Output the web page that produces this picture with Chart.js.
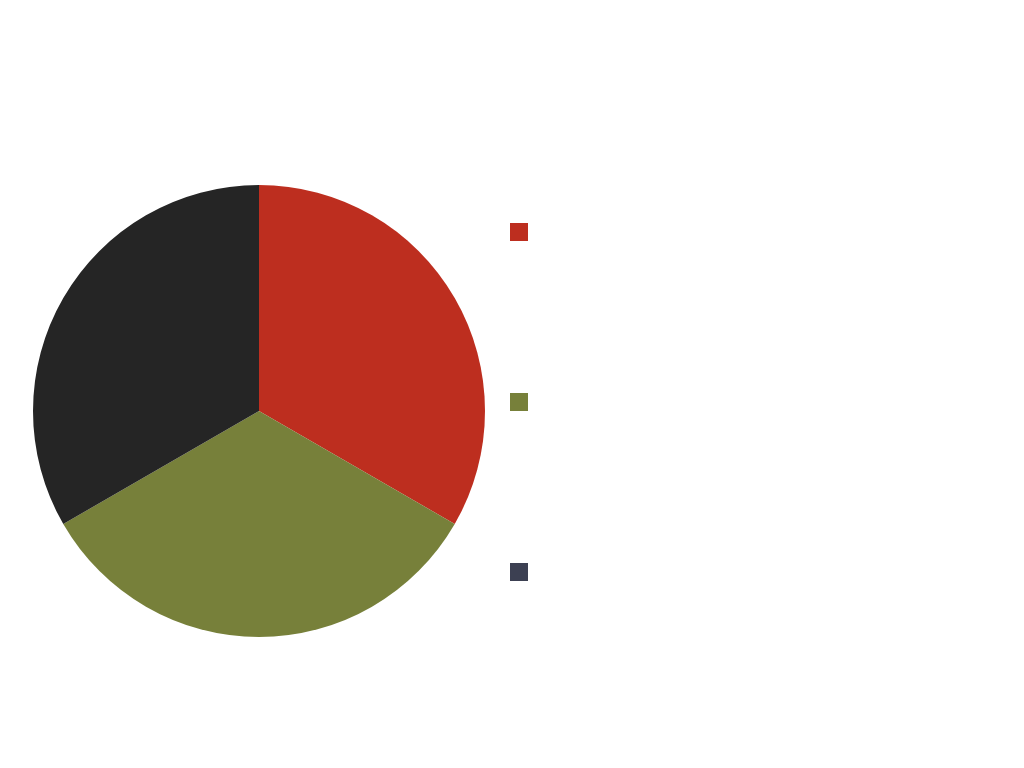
<!DOCTYPE html>
<html>
<head>
<meta charset="utf-8">
<script src="https://cdn.jsdelivr.net/npm/chart.js@4/dist/chart.umd.min.js"></script>
<style>
	html, body { margin: 0; padding: 0; background: #ffffff; }
	#wrap { width: 1024px; height: 768px; }
</style>
</head>
<body>
<div id="wrap"><canvas id="pieChart"></canvas></div>
<script>
// three slices, no readable labels in the picture
const CATEGORIES = ['', '', ''];
const VALUES = [1, 1, 1];
const SLICE_COLORS = ['#BD2E1F', '#77803A', '#252525'];
const LEGEND_COLORS = ['#BD2E1F', '#77803A', '#3C4052'];

let pieOptions = {
	responsive: true,
	maintainAspectRatio: false,
	animation: false,
	layout: {
		padding: { left: 33, right: 413.5, top: 36, bottom: 0 },
	},
	plugins: {
		tooltip: { enabled: false },
		title: {
			display: true,
			text: '',
			padding: 0,
			font: { size: 15 },
		},
		legend: {
			display: true,
			position: 'right',
			align: 'center',
			labels: {
				boxWidth: 18,
				boxHeight: 18,
				padding: 25,
				font: { size: 145 },
				generateLabels: (chart) => {
					return CATEGORIES.map((c, i) => ({
						text: c,
						fillStyle: LEGEND_COLORS[i],
						strokeStyle: LEGEND_COLORS[i],
						lineWidth: 0,
						hidden: false,
						index: i,
					}));
				},
			},
		},
	},
};

let pieData = {
	labels: CATEGORIES,
	datasets: [
		{
			data: VALUES,
			backgroundColor: SLICE_COLORS,
			borderWidth: 0,
			clip: false,
		},
	],
};

const pieChart = new Chart(document.getElementById('pieChart'), {
	type: 'pie',
	data: pieData,
	options: pieOptions,
});
</script>
</body>
</html>
